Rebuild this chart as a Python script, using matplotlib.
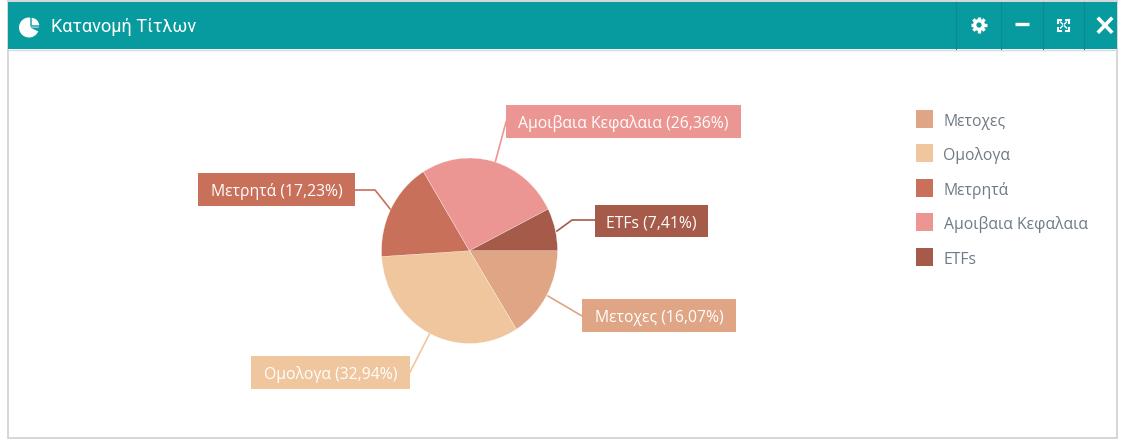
import numpy as np
import matplotlib
matplotlib.use('Agg')
import matplotlib.pyplot as plt
from matplotlib.patches import Rectangle, Wedge, Circle

W = 1132
H = 443

names = ['Μετοχες', 'Ομολογα', 'Μετρητά', 'Αμοιβαια Κεφαλαια', 'ETFs']
shares = [16.07, 32.94, 17.23, 26.36, 7.41]
share_text = ['16,07', '32,94', '17,23', '26,36', '7,41']
colors = ['#dfa585', '#efc69d', '#c9705b', '#ec9693', '#a65b4a']
title = 'Κατανομή Τίτλων'

# label boxes: left, top, right, bottom in pixels
boxes = [(582, 299, 736, 332), (251, 356, 410, 389), (198, 173, 355, 206),
         (506, 105, 741, 138), (595, 205, 708, 237)]
leaders = [[(548, 296), (582, 316)],
           [(430, 333), (410, 372)],
           [(391, 210), (375, 190), (355, 190)],
           [(495, 163), (506, 122)],
           [(557, 231), (572, 220), (595, 220)]]
legend_y = [119, 153, 188, 222, 257]

plt.rcParams['font.family'] = ['Open Sans', 'DejaVu Sans']

fig = plt.figure(figsize=(11.32, 4.43), dpi=100)
ax = fig.add_axes([0, 0, 1, 1])
ax.set_xlim(0, W)
ax.set_ylim(0, H)
ax.axis('off')


def py(y):
    return H - y


# panel and header
ax.add_patch(Rectangle((8, py(438)), 1109, 437, fc='white', ec='#cfcfcf', lw=1.2))
ax.add_patch(Rectangle((8, py(49)), 1109, 47.5, fc='#079a9e', ec='none', zorder=2))
ax.plot([8, 1117], [py(49.5), py(49.5)], color='#d5dcdc', lw=1, zorder=2)
for x in [956, 1001, 1043, 1084]:
    ax.plot([x, x], [py(2), py(49)], color='#088c90', lw=0.8, zorder=3)
ax.text(51, py(27), title, color='white', fontsize=13.1, family=['Roboto', 'DejaVu Sans'],
        va='center', ha='left', zorder=4)

# header pie icon
ax.add_patch(Wedge((29, py(27.5)), 10, 0, 360, width=10, fc='white', ec='none', zorder=4))
ax.add_patch(Wedge((31, py(26)), 9, 0, 90, fc='white', ec='#079a9e', lw=1, zorder=5))
ax.add_patch(Wedge((30, py(27.5)), 10.5, -25, 0, fc='#079a9e', ec='none', zorder=5))

# gear
ax.add_patch(Circle((979, py(25)), 6, fc='white', ec='none', zorder=4))
for a in np.arange(0, 360, 45):
    t = np.radians(a)
    ax.plot([979, 979 + 8 * np.cos(t)], [py(25), py(25) + 8 * np.sin(t)],
            color='white', lw=2.4, zorder=4, solid_capstyle='butt')
ax.add_patch(Circle((979, py(25)), 2.6, fc='#079a9e', ec='none', zorder=5))

# minus
ax.plot([1015, 1029], [py(24), py(24)], color='white', lw=2.4, zorder=4, solid_capstyle='butt')

# expand
for sx in (-1, 1):
    for sy in (-1, 1):
        cx, cy = 1063.5 + sx * 3.5, py(25) + sy * 3.5
        ax.plot([cx - sx * 1, cx + sx * 2, cx + sx * 2], [cy + sy * 2, cy + sy * 2, cy - sy * 1],
                color='white', lw=1.5, zorder=4, solid_joinstyle='miter')
        ax.plot([1063.5 + sx * 1, 1063.5 + sx * 3], [py(25) + sy * 1, py(25) + sy * 3],
                color='white', lw=1, zorder=4)

# close
ax.plot([1099, 1111], [py(19), py(31.5)], color='white', lw=2.6, zorder=4)
ax.plot([1099, 1111], [py(31.5), py(19)], color='white', lw=2.6, zorder=4)

# label boxes with leaders
for name, pct, col, box, line in zip(names, share_text, colors, boxes, leaders):
    left, top, right, bottom = box
    xs = [p[0] for p in line]
    ys = [py(p[1]) for p in line]
    ax.plot(xs, ys, color=col, lw=1.2, zorder=1.5)
    ax.add_patch(Rectangle((left, py(bottom)), right - left, bottom - top, fc=col, ec='none', zorder=3))
    ax.text((left + right) / 2, py((top + bottom) / 2 + 2), f'{name} ({pct}%)', color='white',
            fontsize=11.3, ha='center', va='center', zorder=4)

# legend
for name, col, y in zip(names, colors, legend_y):
    ax.add_patch(Rectangle((916, py(y + 9)), 17, 18, fc=col, ec='none', zorder=3))
    ax.text(943.5, py(y + 2.5), name, color='#6f7a86', fontsize=11.3, ha='left', va='center', zorder=4)

# pie sits in its own axes, slightly taller than wide like the reference
pie_ax = fig.add_axes([381.5 / W, (H - 343.5) / H, 176 / W, 185.5 / H])
pie_ax.pie(shares, colors=colors, startangle=0, counterclock=False, radius=1,
           wedgeprops=dict(edgecolor='white', linewidth=0.2))
pie_ax.set_xlim(-1, 1)
pie_ax.set_ylim(-1, 1)
pie_ax.set_aspect('auto')
pie_ax.patch.set_alpha(0)

fig.savefig('out.png', dpi=100)
